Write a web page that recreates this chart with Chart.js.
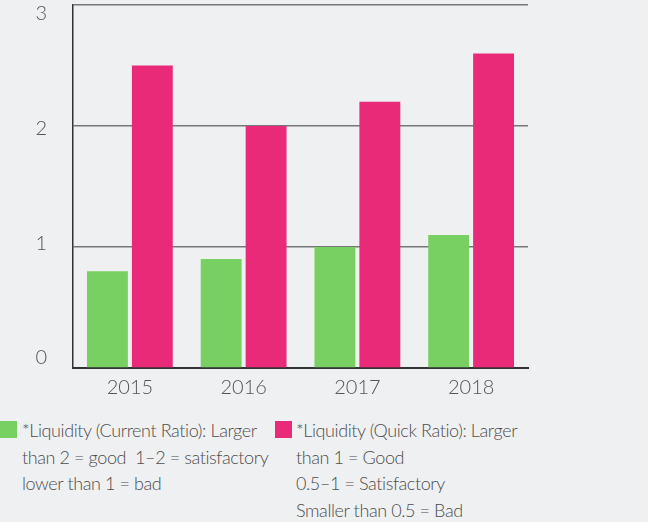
<!DOCTYPE html>
<html>
<head>
<meta charset="utf-8">
<script src="https://cdn.jsdelivr.net/npm/chart.js@4"></script>
<style>
  body { margin: 0; background: #eff0f2; font-family: Lato, sans-serif; font-weight: 300; color: #4d4d4d; }
  #wrap { position: relative; width: 648px; height: 400px; }
  #legend { position: relative; width: 648px; height: 122px; }
  .item { position: absolute; top: 17px; font-size: 18px; letter-spacing: -0.4px; line-height: 26.5px; white-space: pre; }
  .box { position: absolute; top: 21px; width: 17px; height: 17px; }
</style>
</head>
<body>
<div id="wrap"><canvas id="myChart" width="648" height="400"></canvas></div>
<div id="legend"></div>
<script>
const years = ['2015', '2016', '2017', '2018'];
const currentRatio = [0.8, 0.9, 1.0, 1.1];
const quickRatio = [2.5, 2.0, 2.2, 2.6];
const yTicks = [0, 1, 2, 3];
const currentLabel = ['*Liquidity (Current Ratio): Larger', 'than 2 = good  1\u20132 = satisfactory', 'lower than 1 = bad'];
const quickLabel = ['*Liquidity (Quick Ratio): Larger', 'than 1 = Good', '0.5\u20131 = Satisfactory', 'Smaller than 0.5 = Bad'];

const green = '#78cf62';
const pink = '#e82a79';
const tickFont = { family: 'Lato', size: 20, weight: 300, lineHeight: 0.5 };

const ctx = document.getElementById('myChart').getContext('2d');

new Chart(ctx, {
  type: 'bar',
  data: {
    labels: years,
    datasets: [
      { label: currentLabel.join(' '), data: currentRatio, backgroundColor: green },
      { label: quickLabel.join(' '), data: quickRatio, backgroundColor: pink }
    ]
  },
  options: {
    responsive: false,
    animation: false,
    categoryPercentage: 0.79,
    barPercentage: 0.91,
    layout: { padding: { top: 5, right: 120, left: 0, bottom: 0 } },
    scales: {
      x: {
        grid: { display: false },
        border: { display: true, color: '#333', width: 2 },
        ticks: { color: '#555', padding: 0, font: { family: 'Lato', size: 20, weight: 300 } },
        afterFit: s => { s.height = 32; }
      },
      y: {
        min: 0,
        max: 3,
        afterBuildTicks: s => { s.ticks = yTicks.map(v => ({ value: v })); },
        grid: { color: '#777', lineWidth: 1.5, drawTicks: false },
        border: { display: true, color: '#333', width: 1.5 },
        ticks: { display: false },
        afterFit: s => { s.width = 0; }
      },
      // labels only: in the original the numbers sit a little off their grid lines
      yLabels: {
        position: 'left',
        min: -0.087,
        max: 3.078,
        afterBuildTicks: s => { s.ticks = yTicks.map(v => ({ value: v })); },
        grid: { drawOnChartArea: false, tickLength: 26, tickColor: 'rgba(0,0,0,0)' },
        border: { display: false },
        ticks: { color: '#555', padding: 0, font: tickFont },
        afterFit: s => { s.width = 73; }
      }
    },
    plugins: {
      legend: { display: false },
      tooltip: { enabled: false }
    }
  }
});

// legend with wrapped lines, drawn as html below the chart
const legend = document.getElementById('legend');
[[green, currentLabel, 0], [pink, quickLabel, 275]].forEach(([col, lines, x]) => {
  const box = document.createElement('div');
  box.className = 'box';
  box.style.left = x + 'px';
  box.style.background = col;
  legend.appendChild(box);
  const txt = document.createElement('div');
  txt.className = 'item';
  txt.style.left = (x + (x ? 21 : 22)) + 'px';
  txt.textContent = lines.join('\n');
  legend.appendChild(txt);
});
</script>
</body>
</html>
